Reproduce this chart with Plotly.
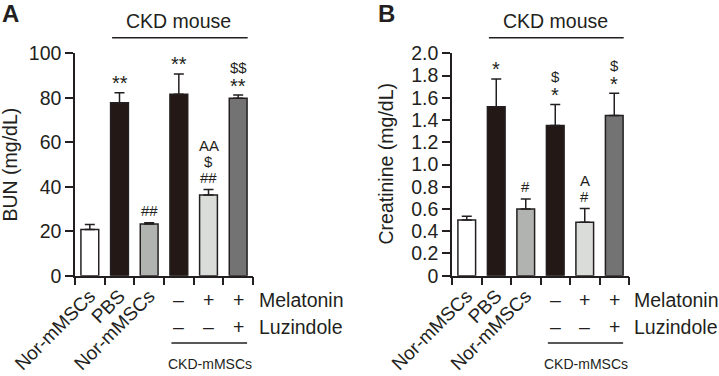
import plotly.graph_objects as go

# ---------------- data ----------------
groups = ["Nor-mMSCs", "CKD PBS", "CKD Nor-mMSCs", "CKD CKD-mMSCs",
          "CKD CKD-mMSCs Mel", "CKD CKD-mMSCs Mel Luz"]
group_labels = ["Nor-mMSCs", "PBS", "Nor-mMSCs", "", "", ""]
melatonin = ["", "", "", "–", "+", "+"]
luzindole = ["", "", "", "–", "–", "+"]
bar_colors = ["#ffffff", "#231815", "#b1b3b1", "#231815", "#dadcda", "#737373"]

bun_mean = [20.8, 77.8, 23.3, 81.6, 36.3, 79.8]
bun_sem = [2.2, 4.5, 0.5, 9.1, 2.5, 1.4]
bun_sig = ["", "**", "##", "**", "AA<br>$<br>##", "$$<br>**"]
bun_ticks = [0, 20, 40, 60, 80, 100]
bun_tick_text = ["0", "20", "40", "60", "80", "100"]

creat_mean = [0.50, 1.52, 0.60, 1.35, 0.48, 1.44]
creat_sem = [0.035, 0.25, 0.09, 0.19, 0.125, 0.20]
creat_sig = ["", "*", "#", "$<br>*", "A<br>#", "$<br>*"]
creat_ticks = [0, 0.2, 0.4, 0.6, 0.8, 1.0, 1.2, 1.4, 1.6, 1.8, 2.0]
creat_tick_text = ["0", "0.2", "0.4", "0.6", "0.8", "1.0", "1.2", "1.4", "1.6", "1.8", "2.0"]

# ---------------- style ----------------
W, H = 719, 376
INK = "#231f20"
FONT = "Liberation Sans, Arial, sans-serif"
FS = 19.5

def px(x):
    return x / W

def py(y):
    return 1 - y / H

def note(**kw):
    kw.setdefault("showarrow", False)
    kw.setdefault("xanchor", "center")
    kw.setdefault("yanchor", "middle")
    fig.add_annotation(**kw)

fig = go.Figure()

panels = [
    dict(letter="A", xa="x", ya="y", xname="xaxis", yname="yaxis",
         mean=bun_mean, sem=bun_sem, sig=bun_sig, ticks=bun_ticks, ticktext=bun_tick_text,
         yrange=[0, 100], title="BUN (mg/dL)", x0=75, x1=253, title_x=9, letter_x=0,
         label_x=257),
    dict(letter="B", xa="x2", ya="y2", xname="xaxis2", yname="yaxis2",
         mean=creat_mean, sem=creat_sem, sig=creat_sig, ticks=creat_ticks, ticktext=creat_tick_text,
         yrange=[0, 2.0], title="Creatinine (mg/dL)", x0=452, x1=629, title_x=385, letter_x=376,
         label_x=632),
]

y_top, y_bot = 53.3, 275.7

for p in panels:
    fig.add_trace(go.Bar(
        x=groups, y=p["mean"], xaxis=p["xa"], yaxis=p["ya"], width=0.6,
        marker=dict(color=bar_colors, line=dict(color=INK, width=1.5)),
        error_y=dict(type="data", array=p["sem"], arrayminus=[0] * len(groups),
                     symmetric=False, color=INK, thickness=1.5, width=5),
        showlegend=False, hoverinfo="skip",
    ))
    fig.layout[p["xname"]] = dict(
        domain=[px(p["x0"]), px(p["x1"])], anchor=p["ya"], type="category",
        categoryorder="array", categoryarray=groups, automargin=False,
        tickmode="array", tickvals=groups, ticktext=group_labels,
        tickson="boundaries", ticks="outside", ticklen=8, tickwidth=1.5, tickcolor=INK,
        showline=True, linecolor=INK, linewidth=1.5, tickangle=-45,
        tickfont=dict(family=FONT, size=19, color=INK), showgrid=False, zeroline=False,
        range=[-0.5, 5.5],
    )
    fig.layout[p["yname"]] = dict(
        domain=[py(y_bot), py(y_top)], anchor=p["xa"], range=p["yrange"], automargin=False,
        tickmode="array", tickvals=p["ticks"], ticktext=p["ticktext"],
        ticks="outside", ticklen=8, tickwidth=1.5, tickcolor=INK,
        showline=True, linecolor=INK, linewidth=1.5, showgrid=False, zeroline=False,
        tickfont=dict(family=FONT, size=FS, color=INK),
    )
    # significance marks, stacked from the error-bar top upward
    for g, m, s, t in zip(groups, p["mean"], p["sem"], p["sig"]):
        if not t:
            continue
        lines = t.split("<br>")[::-1]
        for k, line in enumerate(lines):
            star = "*" in line
            note(x=g, y=m + s, xref=p["xa"], yref=p["ya"], text=line,
                 yshift=(9.5 if star else 12) + 16 * k,
                 font=dict(family=FONT, size=20 if star else 15, color=INK))
    # y title
    note(x=px(p["title_x"]), y=py((y_top + y_bot) / 2), xref="paper", yref="paper",
         text=p["title"], textangle=-90, font=dict(family=FONT, size=FS, color=INK))
    # panel letter
    note(x=px(p["letter_x"]), y=py(13.5), xref="paper", yref="paper", xanchor="left",
         text="<b>%s</b>" % p["letter"], font=dict(family=FONT, size=24, color=INK))
    # CKD mouse
    fig.add_shape(type="line", xref=p["xa"], yref="paper", x0=0.75, x1=5.32,
                  y0=py(37.7), y1=py(37.7), line=dict(color=INK, width=1.5))
    note(x=3.0, y=py(21.5), xref=p["xa"], yref="paper", text="CKD mouse",
         font=dict(family=FONT, size=FS, color=INK))
    # treatment rows
    for i, g in enumerate(groups):
        if melatonin[i]:
            note(x=g, y=py(300), xref=p["xa"], yref="paper", text=melatonin[i],
                 font=dict(family=FONT, size=FS, color=INK))
        if luzindole[i]:
            note(x=g, y=py(327), xref=p["xa"], yref="paper", text=luzindole[i],
                 font=dict(family=FONT, size=FS, color=INK))
    note(x=px(p["label_x"]), y=py(300), xref="paper", yref="paper", text="Melatonin",
         xanchor="left", font=dict(family=FONT, size=FS, color=INK))
    note(x=px(p["label_x"]), y=py(327), xref="paper", yref="paper", text="Luzindole",
         xanchor="left", font=dict(family=FONT, size=FS, color=INK))
    fig.add_shape(type="line", xref=p["xa"], yref="paper", x0=2.75, x1=5.3,
                  y0=py(343), y1=py(343), line=dict(color=INK, width=1.5))
    note(x=4.05, y=py(364), xref=p["xa"], yref="paper", text="CKD-mMSCs",
         font=dict(family=FONT, size=14, color=INK))

fig.update_layout(
    width=W, height=H, margin=dict(l=0, r=0, t=0, b=0, autoexpand=False),
    paper_bgcolor="white", plot_bgcolor="white", bargap=0.4,
    font=dict(family=FONT, color=INK),
)

fig.write_html("out.html", config={"displayModeBar": False},
               post_script="document.body.style.margin='0';document.body.style.padding='0';")
